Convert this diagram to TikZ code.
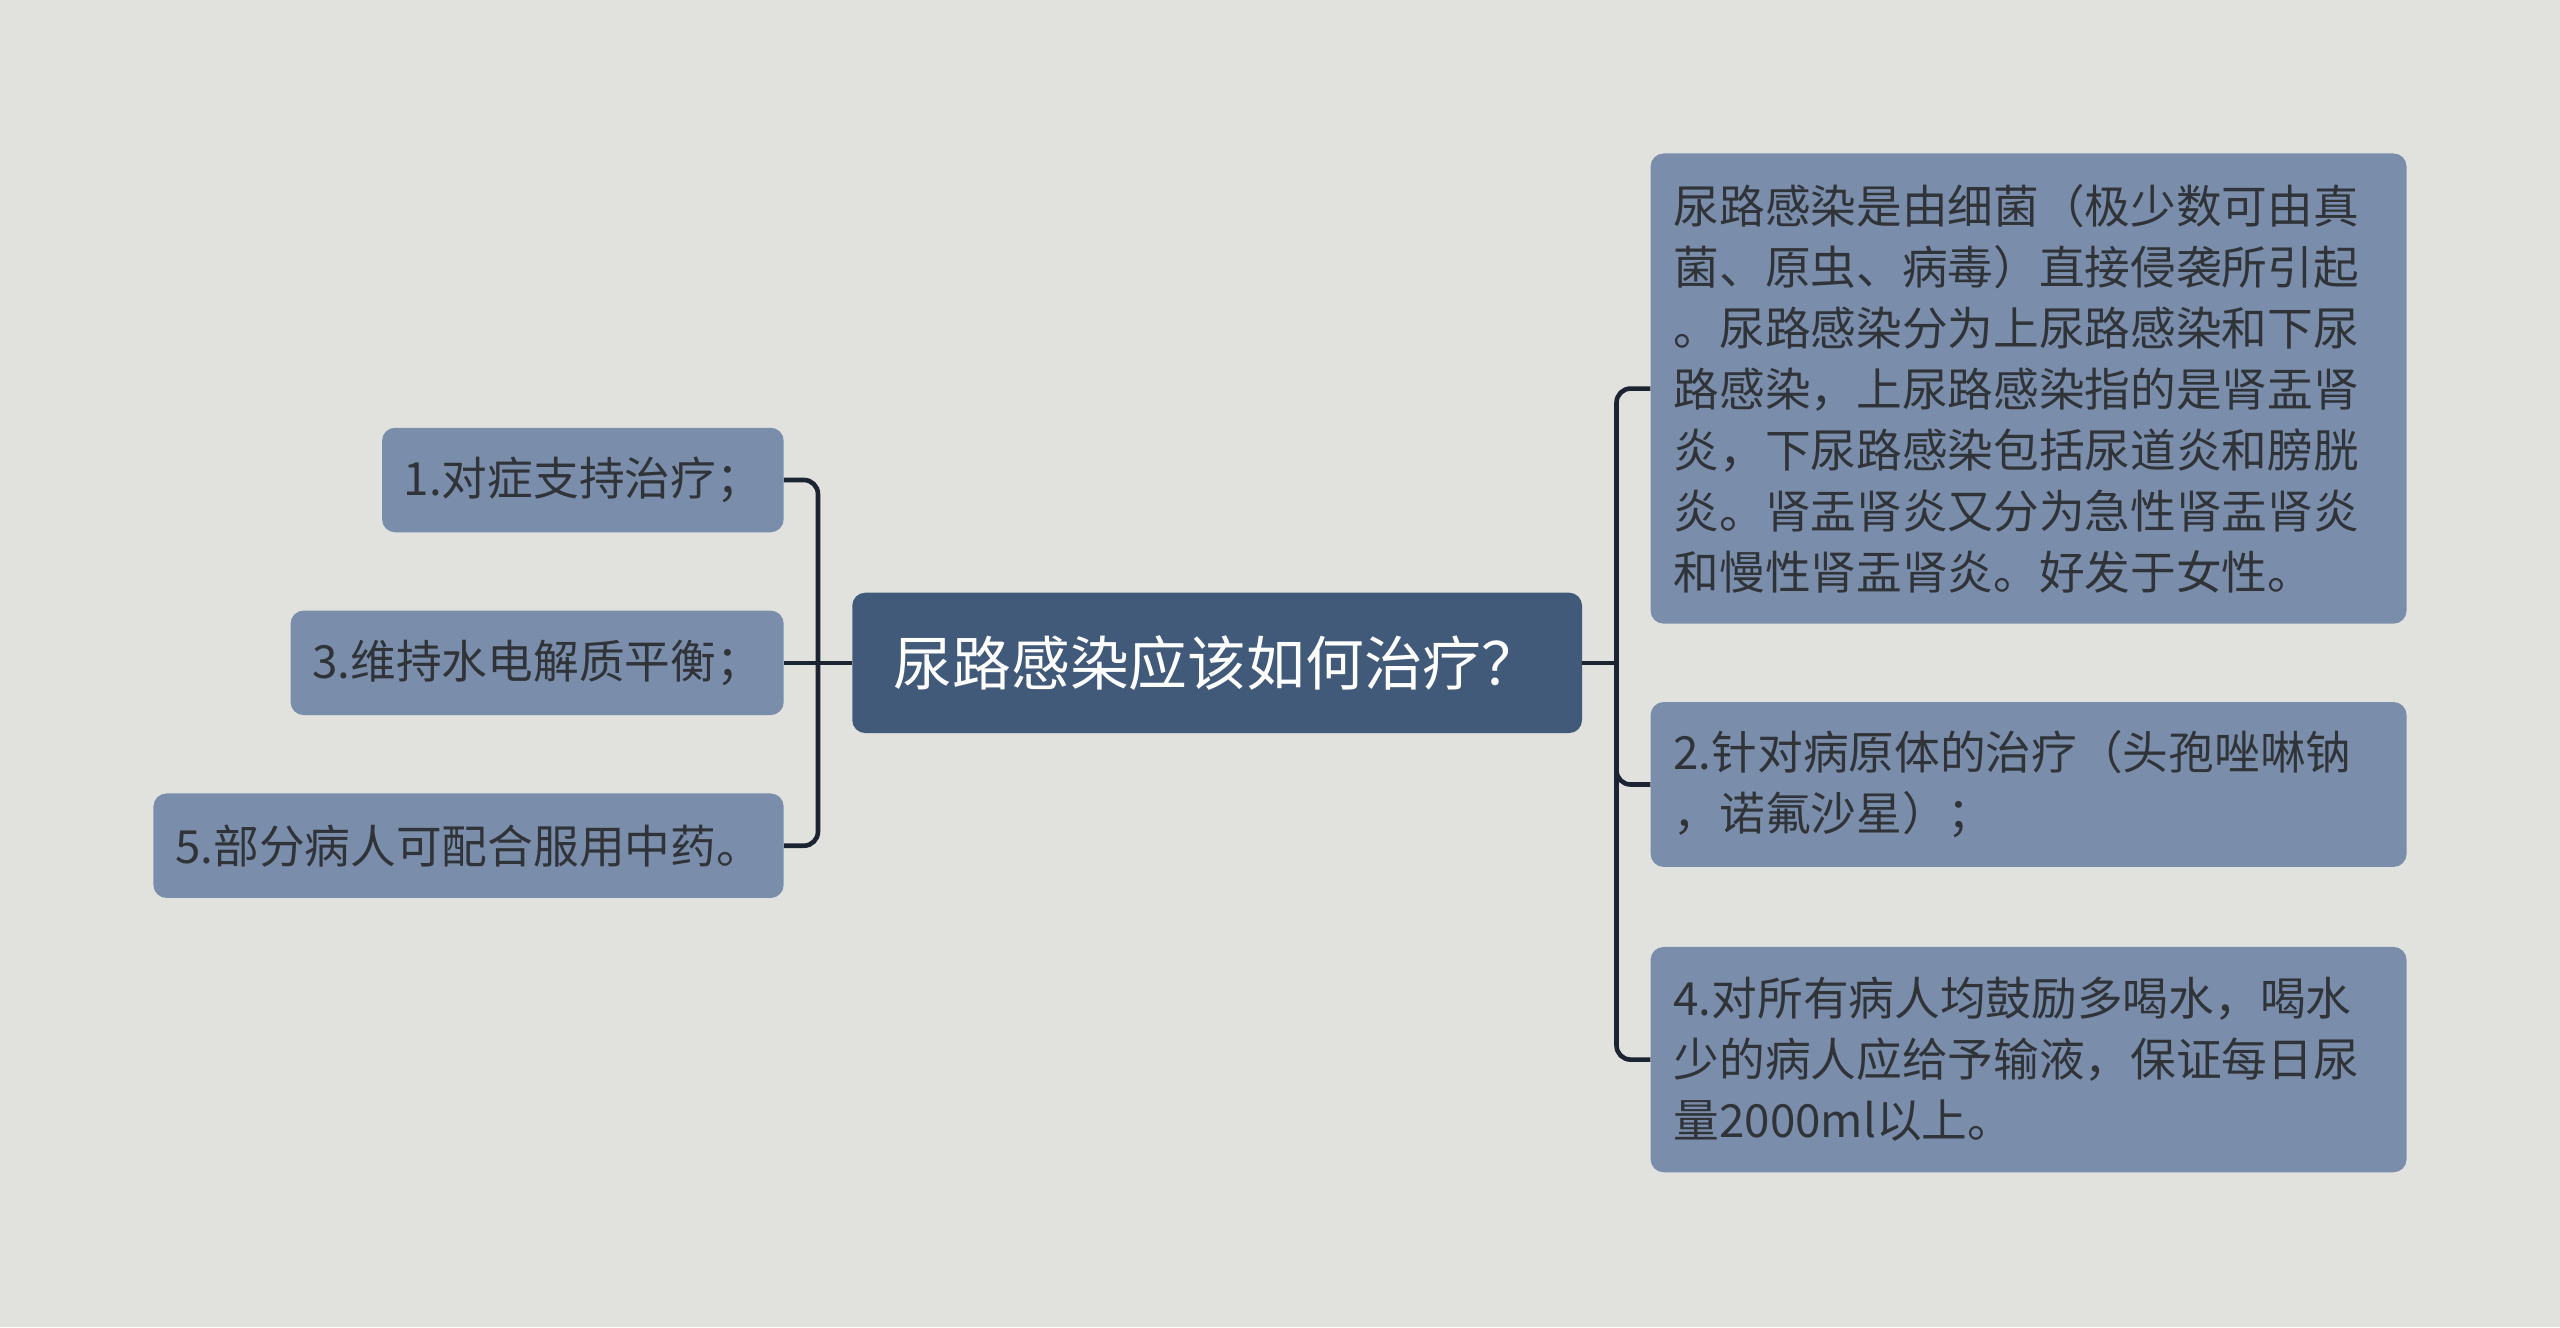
\documentclass[tikz,border=0pt]{standalone}
\usepackage{fontspec}
\setmainfont{Noto Sans CJK SC}
\usetikzlibrary{calc}
\definecolor{bgc}{HTML}{E1E2DD}
\definecolor{leafc}{HTML}{7A8EAC}
\definecolor{rootc}{HTML}{425A7A}
\definecolor{txtc}{HTML}{303337}
\definecolor{linec}{HTML}{1B2430}
\tikzset{
  base/.style={draw=none, rounded corners=13pt, inner sep=0pt, anchor=center},
  rootbox/.style={base, fill=rootc, text=white, minimum width=729.8pt, minimum height=140.4pt,
    font=\fontsize{58.8}{70}\selectfont},
  leftleaf/.style={base, fill=leafc, text=txtc, minimum height=104.5pt,
    font=\fontsize{45.7}{61}\selectfont},
  rightleaf/.style={base, fill=leafc, text=txtc, minimum width=756pt, text width=710pt, align=left,
    font=\fontsize{45.7}{61}\selectfont},
  conn/.style={draw=linec, line width=4.6pt, rounded corners=14pt}
}
\begin{document}
\begin{tikzpicture}[x=1.6327pt, y=-1.6327pt]
\fill[bgc] (0,0) rectangle (1568,813);
\useasboundingbox (0,0) rectangle (1568,813);

\node[rootbox] (root) at (745.5,406) {尿路感染应该如何治疗？};

\node[leftleaf, minimum width=401.6pt] (n1) at (357,294) {1.对症支持治疗；};
\node[leftleaf, minimum width=493.1pt] (n3) at (329,406) {3.维持水电解质平衡；};
\node[leftleaf, minimum width=630.2pt] (n5) at (287,518) {5.部分病人可配合服用中药。};

\node[rightleaf, minimum height=470.2pt] (na) at (1242.5,238) {尿路感染是由细菌（极少数可由真\\菌、原虫、病毒）直接侵袭所引起\\。尿路感染分为上尿路感染和下尿\\路感染，上尿路感染指的是肾盂肾\\炎，下尿路感染包括尿道炎和膀胱\\炎。肾盂肾炎又分为急性肾盂肾炎\\和慢性肾盂肾炎。好发于女性。};
\node[rightleaf, minimum height=164.9pt] (nb) at (1242.5,480.5) {2.针对病原体的治疗（头孢唑啉钠\\，诺氟沙星）；};
\node[rightleaf, minimum height=225.3pt] (nc) at (1242.5,649) {4.对所有病人均鼓励多喝水，喝水\\少的病人应给予输液，保证每日尿\\量2000ml以上。};

\coordinate (lt) at ($(root.west)!0.5!(n3.east)$);
\coordinate (rt) at ($(root.east)+(21,0)$);

\draw[conn] (root.west) -- (n3.east);
\draw[conn] (lt) |- (n1.east);
\draw[conn] (lt) |- (n5.east);

\draw[conn] (root.east) -- (rt);
\draw[conn] (rt) |- (na.west);
\draw[conn] (rt) |- (nb.west);
\draw[conn] (rt) |- (nc.west);
\end{tikzpicture}
\end{document}
